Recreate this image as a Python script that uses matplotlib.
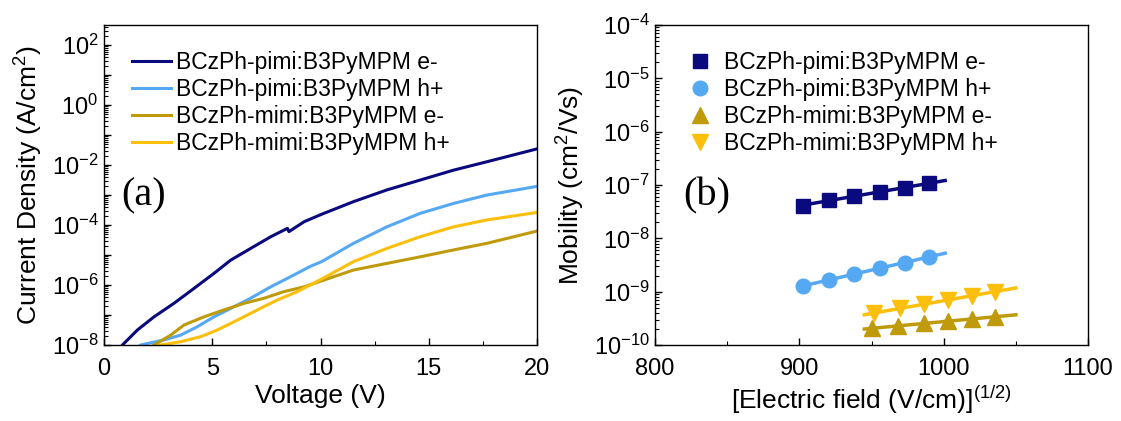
import numpy as np
import matplotlib
matplotlib.use("Agg")
import matplotlib.pyplot as plt
from matplotlib.ticker import LogLocator, FuncFormatter, NullFormatter, MultipleLocator

plt.rcParams['font.family'] = ['Liberation Sans', 'DejaVu Sans']
plt.rcParams['mathtext.fontset'] = 'custom'
plt.rcParams['mathtext.rm'] = 'Liberation Sans'
plt.rcParams['mathtext.it'] = 'Liberation Sans:italic'
plt.rcParams['mathtext.bf'] = 'Liberation Sans:bold'

# (a) J-V curves, log10(J)
labels = ['BCzPh-pimi:B3PyMPM e-', 'BCzPh-pimi:B3PyMPM h+',
          'BCzPh-mimi:B3PyMPM e-', 'BCzPh-mimi:B3PyMPM h+']
colors = ['#0a0a7e', '#55a8f2', '#bf9b0b', '#fcbf0c']

v_pe = [0.5, 0.85, 1.54, 2.31, 3.23, 4.16, 5.08, 5.85, 6.77, 7.70, 8.47, 8.54, 9.24, 10.05,
        11.52, 13.06, 14.6, 16.14, 17.68, 20.0]
logj_pe = [-8.4, -8.0, -7.5, -7.06, -6.61, -6.11, -5.61, -5.17, -4.78, -4.39, -4.11, -4.22, -3.89, -3.64,
           -3.22, -2.83, -2.5, -2.17, -1.89, -1.46]

v_ph = [1.3, 1.69, 2.77, 3.54, 4.31, 5.08, 5.85, 6.77, 7.70, 8.62, 9.55, 10.05,
        11.52, 13.06, 14.6, 16.14, 17.68, 20.0]
logj_ph = [-8.2, -8.0, -7.83, -7.67, -7.39, -7.06, -6.78, -6.44, -6.06, -5.72, -5.37, -5.22,
           -4.61, -4.06, -3.61, -3.28, -3.0, -2.71]

v_me = [1.9, 2.31, 3.08, 3.70, 4.62, 5.54, 6.47, 7.39, 8.31, 9.24, 10.05,
        11.52, 13.06, 14.6, 16.14, 17.68, 20.0]
logj_me = [-8.2, -8.0, -7.67, -7.33, -7.06, -6.83, -6.61, -6.44, -6.22, -6.06, -5.86,
           -5.5, -5.28, -5.06, -4.83, -4.61, -4.2]

v_mh = [2.1, 2.62, 3.54, 4.47, 5.23, 6.16, 7.08, 8.0, 8.93, 10.05,
        11.52, 13.06, 14.6, 16.14, 17.68, 20.0]
logj_mh = [-8.1, -8.0, -7.89, -7.72, -7.5, -7.17, -6.83, -6.5, -6.22, -5.8,
           -5.22, -4.78, -4.39, -4.06, -3.83, -3.58]

# (b) mobility vs sqrt(E)
e_pe = [902.3, 920.7, 937.9, 955.6, 973.1, 989.7]
mu_pe = [4.1e-8, 5.2e-8, 6.2e-8, 7.5e-8, 8.9e-8, 1.07e-7]
e_ph = [902.3, 920.7, 937.9, 955.6, 973.1, 989.7]
mu_ph = [1.28e-9, 1.66e-9, 2.15e-9, 2.75e-9, 3.5e-9, 4.5e-9]
e_me = [950.6, 968.5, 986.2, 1002.8, 1019.5, 1035.6]
mu_me = [2.06e-10, 2.27e-10, 2.55e-10, 2.82e-10, 3.04e-10, 3.4e-10]
e_mh = [951.5, 969.5, 986.2, 1002.8, 1019.5, 1035.6]
mu_mh = [3.9e-10, 4.9e-10, 5.9e-10, 7.0e-10, 8.3e-10, 1.0e-9]
fit_range = [(900, 1001), (900, 1001), (945, 1050), (945, 1050)]
markers = ['s', 'o', '^', 'v']
msizes = [10, 10.5, 11, 11]

fig = plt.figure(figsize=(11.21, 4.21), dpi=100)
ax1 = fig.add_axes([0.0928, 0.1805, 0.3863, 0.7601])
ax2 = fig.add_axes([0.5843, 0.1805, 0.3863, 0.7601])

# ---- panel (a)
jv = [(v_pe, logj_pe), (v_ph, logj_ph), (v_me, logj_me), (v_mh, logj_mh)]
for (v, lj), c, lab in zip(jv, colors, labels):
    ax1.plot(v, 10 ** np.array(lj), color=c, lw=2.2, label=lab, solid_joinstyle='round')
ax1.set_yscale('log')
ax1.set_xlim(0, 20)
ax1.set_ylim(1e-8, 10 ** 2.67)
ax1.xaxis.set_major_locator(MultipleLocator(5))
ax1.xaxis.set_minor_locator(MultipleLocator(2.5))
ax1.yaxis.set_major_locator(LogLocator(base=10, numticks=30))
ax1.yaxis.set_minor_locator(LogLocator(base=10, subs=np.arange(2, 10), numticks=30))
ax1.yaxis.set_minor_formatter(NullFormatter())


def even_fmt(y, pos):
    e = int(round(np.log10(y)))
    if e % 2:
        return ''
    return r'$\mathdefault{10^{%d}}$' % e


ax1.yaxis.set_major_formatter(FuncFormatter(even_fmt))
ax1.set_xlabel('Voltage (V)', fontsize=19, labelpad=3)
ax1.set_ylabel('Current Density (A/cm$^2$)', fontsize=19, labelpad=5)
ax1.legend(loc='upper left', bbox_to_anchor=(0.064, 0.92), frameon=False, fontsize=16.5,
           handlelength=1.7, handletextpad=0.25, labelspacing=0.18, borderaxespad=0,
           borderpad=0)
ax1.text(0.04, 0.465, '(a)', transform=ax1.transAxes, fontsize=29,
         family='Liberation Serif', ha='left', va='center')

# ---- panel (b)
mob = [(e_pe, mu_pe), (e_ph, mu_ph), (e_me, mu_me), (e_mh, mu_mh)]
for (e, mu), c, m, ms, fr, lab in zip(mob, colors, markers, msizes, fit_range, labels):
    ax2.plot(e, mu, m, color=c, ms=ms, mec=c, label=lab, zorder=3)
    k, b = np.polyfit(e, np.log10(mu), 1)
    xf = np.array(fr)
    ax2.plot(xf, 10 ** (k * xf + b), '-', color=c, lw=2.5, zorder=2)
ax2.set_yscale('log')
ax2.set_xlim(800, 1100)
ax2.set_ylim(1e-10, 1e-4)
ax2.xaxis.set_major_locator(MultipleLocator(100))
ax2.xaxis.set_minor_locator(MultipleLocator(50))
ax2.yaxis.set_major_locator(LogLocator(base=10, numticks=30))
ax2.yaxis.set_minor_locator(LogLocator(base=10, subs=np.arange(2, 10), numticks=30))
ax2.yaxis.set_minor_formatter(NullFormatter())
ax2.set_xlabel('[Electric field (V/cm)]$^{(1/2)}$', fontsize=19, labelpad=3)
ax2.set_ylabel('Mobility (cm$^2$/Vs)', fontsize=19, labelpad=5)
ax2.legend(loc='upper left', bbox_to_anchor=(0.08, 0.92), frameon=False, fontsize=16.5,
           handlelength=0.9, handletextpad=0.6, labelspacing=0.18, borderaxespad=0,
           borderpad=0)
ax2.text(0.065, 0.465, '(b)', transform=ax2.transAxes, fontsize=29,
         family='Liberation Serif', ha='left', va='center')

for ax in (ax1, ax2):
    ax.tick_params(which='both', direction='in', top=False, right=False, labelsize=17)
    ax.tick_params(which='major', length=5, width=1, pad=4)
    ax.tick_params(which='minor', length=3, width=0.8)
    ax.tick_params(axis='x', pad=9)
    for s in ax.spines.values():
        s.set_linewidth(1.0)

fig.savefig('out.png', dpi=100)
